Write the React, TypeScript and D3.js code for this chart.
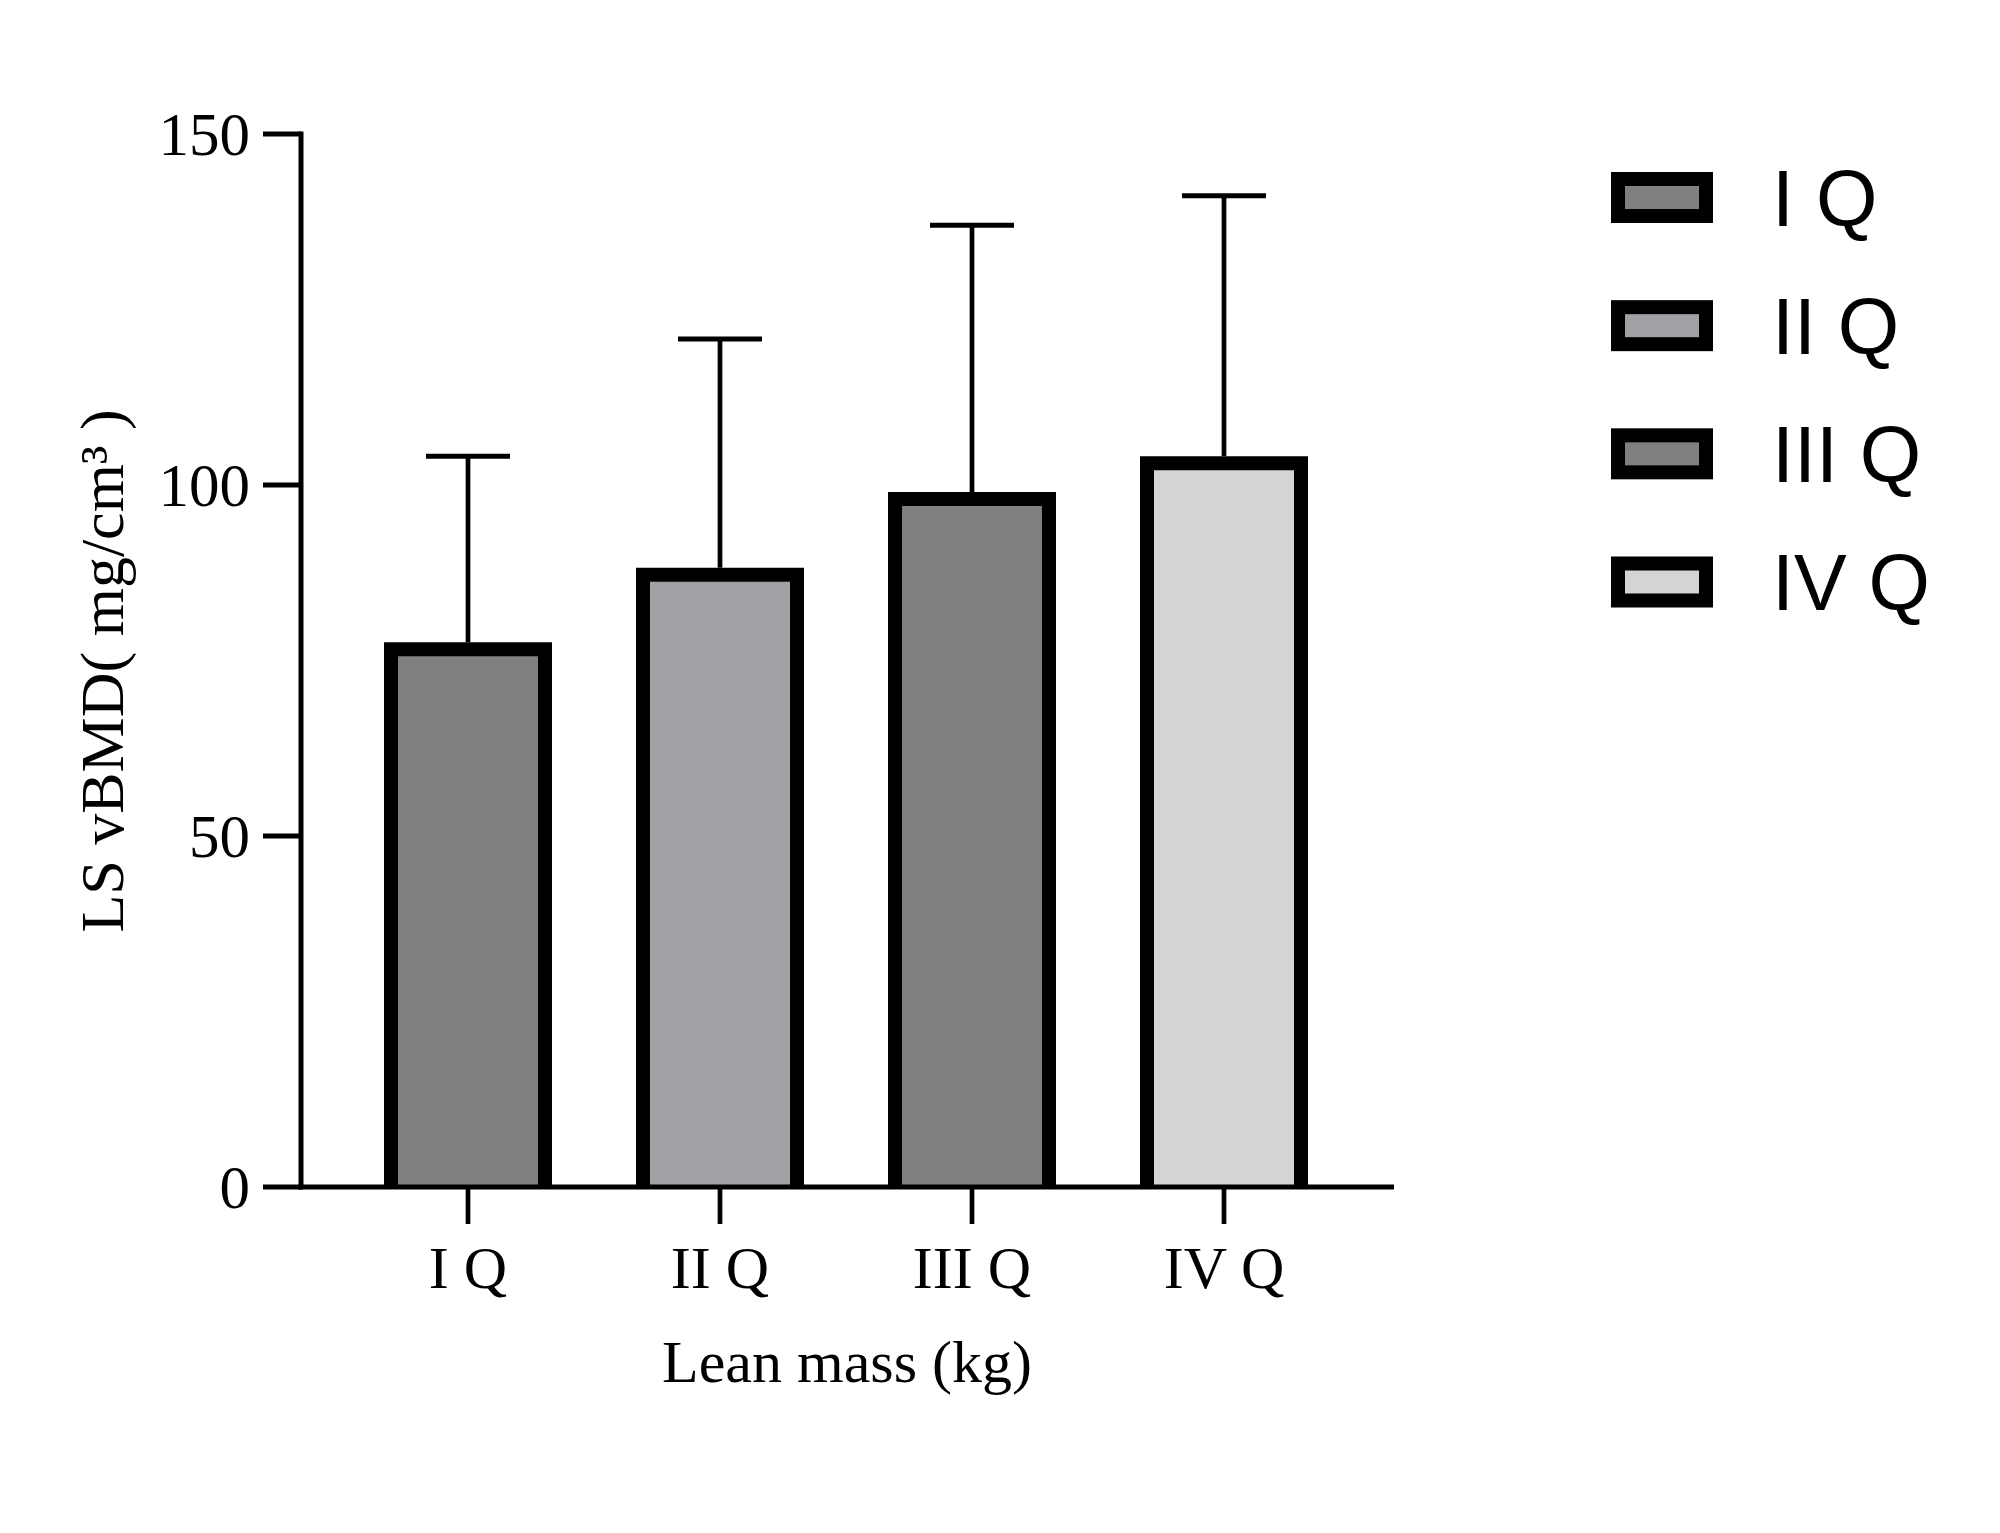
import React from "react";
import * as d3 from "d3";

const categories = ["I Q", "II Q", "III Q", "IV Q"];
const means = [76.6, 87.2, 98.0, 103.1];
const sds = [27.5, 33.6, 39.0, 38.1];
const fills = ["#808080", "#a1a1a5", "#808080", "#d4d4d4"];
const yTicks = [0, 50, 100, 150];
const yTitle = "LS vBMD( mg/cm\u00B3 )";
const xTitle = "Lean mass (kg)";

const W = 2000;
const H = 1533;

export default function App() {
  const y = d3.scaleLinear().domain([0, 150]).range([1187, 134]);
  const x = d3.scalePoint<string>().domain(categories).range([468, 1224]);
  const axisLeft = 301;
  const axisRight = 1394;
  const barW = 154;
  const capHalf = 42;
  const serif = "'Liberation Serif', 'Times New Roman', serif";
  const sans = "'Liberation Sans', Arial, sans-serif";
  const legendY = d3.scaleLinear().domain([0, 3]).range([197.5, 582]);

  return (
    <svg
      width={W}
      height={H}
      viewBox={`0 0 ${W} ${H}`}
      style={{ position: "absolute", left: 0, top: 0, background: "#fff" }}
    >
      {/* bars */}
      {categories.map((c, i) => {
        const cx = x(c)!;
        const x0 = cx - barW / 2;
        const x1 = cx + barW / 2;
        const yt = y(means[i]);
        const yb = y(0);
        return (
          <g key={c}>
            <rect x={x0} y={yt} width={barW} height={yb - yt} fill={fills[i]} />
            <path
              d={`M${x0},${yb}V${yt}H${x1}V${yb}`}
              fill="none"
              stroke="#000"
              strokeWidth={14}
              strokeLinejoin="miter"
              strokeLinecap="butt"
            />
            <line
              x1={cx}
              x2={cx}
              y1={yt - 7}
              y2={y(means[i] + sds[i])}
              stroke="#000"
              strokeWidth={4.7}
            />
            <line
              x1={cx - capHalf}
              x2={cx + capHalf}
              y1={y(means[i] + sds[i])}
              y2={y(means[i] + sds[i])}
              stroke="#000"
              strokeWidth={5}
            />
          </g>
        );
      })}

      {/* y axis */}
      <line x1={axisLeft} x2={axisLeft} y1={y(150) - 2.5} y2={y(0) + 2.5} stroke="#000" strokeWidth={5} />
      {yTicks.map((t) => (
        <g key={t}>
          <line x1={axisLeft - 38} x2={axisLeft} y1={y(t)} y2={y(t)} stroke="#000" strokeWidth={5} />
          <text
            x={250}
            y={y(t)}
            dy="0.34em"
            textAnchor="end"
            fontFamily={serif}
            fontSize={61}
            fill="#000"
          >
            {t}
          </text>
        </g>
      ))}

      {/* x axis */}
      <line x1={axisLeft - 2.5} x2={axisRight} y1={y(0)} y2={y(0)} stroke="#000" strokeWidth={5} />
      {categories.map((c) => (
        <g key={c}>
          <line x1={x(c)!} x2={x(c)!} y1={y(0)} y2={y(0) + 37} stroke="#000" strokeWidth={4.7} />
          <text
            x={x(c)!}
            y={1288}
            textAnchor="middle"
            fontFamily={serif}
            fontSize={60}
            fill="#000"
          >
            {c}
          </text>
        </g>
      ))}

      {/* axis titles */}
      <text
        x={847}
        y={1382}
        textAnchor="middle"
        fontFamily={serif}
        fontSize={60}
        fill="#000"
      >
        {xTitle}
      </text>
      <text
        transform={`translate(123,671) rotate(-90)`}
        textAnchor="middle"
        fontFamily={serif}
        fontSize={62}
        fill="#000"
      >
        {yTitle}
      </text>

      {/* legend */}
      {categories.map((c, i) => {
        const cy = legendY(i);
        return (
          <g key={"lg" + c}>
            <rect
              x={1618}
              y={cy - 18.5}
              width={88}
              height={37}
              fill={fills[i]}
              stroke="#000"
              strokeWidth={14}
            />
            <text x={1772} y={cy + 28} fontFamily={sans} fontSize={79} fill="#000">
              {c}
            </text>
          </g>
        );
      })}
    </svg>
  );
}
